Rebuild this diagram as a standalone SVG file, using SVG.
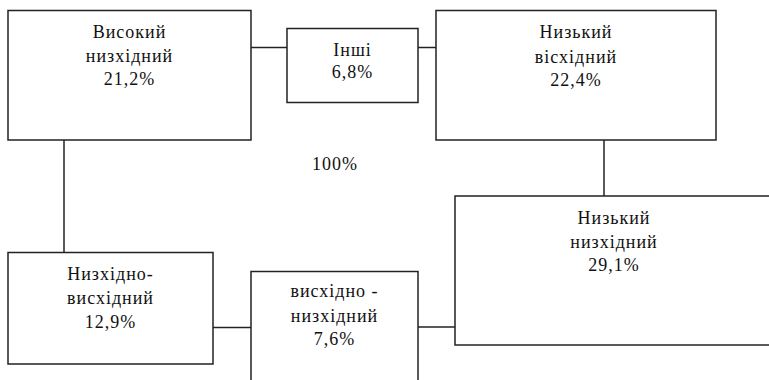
<svg xmlns="http://www.w3.org/2000/svg" width="769" height="380" viewBox="0 0 769 380">
<style>
rect{fill:#fff;stroke:#222;stroke-width:1.5}
.c line{stroke:#222;stroke-width:1.5}
text{font-family:"Liberation Serif","Times New Roman",serif;font-size:18px;fill:#111;text-anchor:middle;letter-spacing:1px}
</style>
<rect x="0" y="0" width="769" height="380" style="stroke:none"/>
<g class="c">
<line x1="251" y1="47.5" x2="287" y2="47.5"/>
<line x1="418" y1="47.5" x2="436" y2="47.5"/>
<line x1="64" y1="140" x2="64" y2="252"/>
<line x1="604" y1="140" x2="604" y2="196"/>
<line x1="213" y1="327.5" x2="251" y2="327.5"/>
<line x1="418" y1="327" x2="455" y2="327"/>
</g>
<g id="n1">
<rect x="8" y="10.5" width="243" height="129.5"/>
<text x="129.5" y="38">Високий</text>
<text x="129.5" y="61.5">низхідний</text>
<text x="129.5" y="84.5">21,2%</text>
</g>
<g id="n2">
<rect x="287" y="28.5" width="131" height="74"/>
<text x="352.5" y="56">Інші</text>
<text x="352.5" y="78">6,8%</text>
</g>
<g id="n3">
<rect x="436" y="10.5" width="280" height="129.5"/>
<text x="576" y="38">Низький</text>
<text x="576" y="62.5">вісхідний</text>
<text x="576" y="85.5">22,4%</text>
</g>
<g id="n4">
<rect x="455" y="196" width="320" height="149"/>
<text x="614" y="224">Низький</text>
<text x="614" y="248">низхідний</text>
<text x="614" y="271">29,1%</text>
</g>
<g id="n5">
<rect x="8" y="252.5" width="205" height="111.5"/>
<text x="110.5" y="279.5">Низхідно-</text>
<text x="110.5" y="304">висхідний</text>
<text x="110.5" y="327.5">12,9%</text>
</g>
<g id="n6">
<rect x="251" y="271.5" width="167" height="120"/>
<text x="334.5" y="297">висхідно -</text>
<text x="334.5" y="322">низхідний</text>
<text x="334.5" y="345">7,6%</text>
</g>
<text x="335" y="170">100%</text>
</svg>
